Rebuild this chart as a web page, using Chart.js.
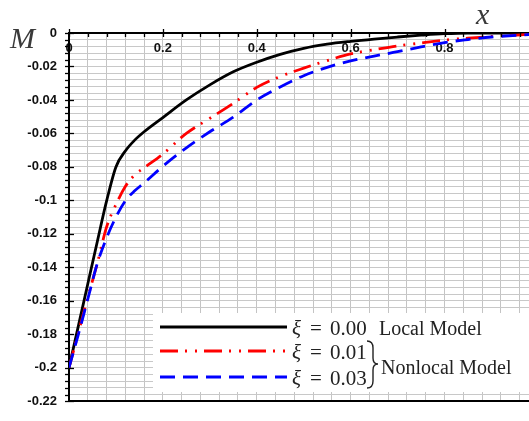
<!DOCTYPE html>
<html>
<head>
<meta charset="utf-8">
<title>Bending moment M(x)</title>
<script src="https://cdn.jsdelivr.net/npm/chart.js@4.4.1/dist/chart.umd.min.js"></script>
<style>
  html, body { margin: 0; padding: 0; background: #fff; }
  #wrap { width: 529px; height: 421px; }
</style>
</head>
<body>
<div id="wrap"><canvas id="momentChart" width="529" height="421"></canvas></div>
<script>
// values
const xValues = [0, 0.02, 0.04, 0.06, 0.08, 0.1, 0.12, 0.14, 0.16, 0.2, 0.25, 0.3, 0.35,
  0.4, 0.45, 0.5, 0.55, 0.6, 0.65, 0.7, 0.75, 0.8, 0.85, 0.9, 0.98];
const localModel = [-0.2, -0.175, -0.150, -0.125, -0.1005, -0.080, -0.0705, -0.064, -0.059,
  -0.0505, -0.040, -0.031, -0.0232, -0.0175, -0.0128, -0.0092, -0.0067, -0.0050, -0.0036,
  -0.0024, -0.0013, -0.0004, 0, 0, 0];
const nonlocal001 = [-0.2, -0.179, -0.158, -0.138, -0.116, -0.1025, -0.0917, -0.0848, -0.0805,
  -0.0723, -0.0600, -0.0510, -0.0420, -0.0325, -0.0260, -0.0210, -0.0165, -0.0125, -0.0100,
  -0.0077, -0.0060, -0.0042, -0.0031, -0.0021, -0.0008];
const nonlocal003 = [-0.2, -0.180, -0.159, -0.138, -0.1225, -0.110, -0.1003, -0.0943, -0.0896,
  -0.0796, -0.0686, -0.0590, -0.0503, -0.0400, -0.0322, -0.0255, -0.0205, -0.0167, -0.0138,
  -0.0112, -0.0083, -0.0057, -0.0039, -0.0024, -0.0009];

const seriesLabels = ['ξ = 0.00', 'ξ = 0.01', 'ξ = 0.03'];
const xTickLabels = [0, 0.2, 0.4, 0.6, 0.8];
const yTickLabels = [0, -0.02, -0.04, -0.06, -0.08, -0.1, -0.12, -0.14, -0.16, -0.18, -0.2, -0.22];

const isLabelled = (v, list) => list.some(l => Math.abs(l - v) < 1e-7);

class MomentChart {

  constructor(canvasId){
    this._canvasId = canvasId;
    this._config;
  }

  buildPoints(series){
    return xValues.map((x, i) => ({x: x, y: series[i]}));
  }

  buildData(){
    return {
      datasets: [{
        label: seriesLabels[0],
        data: this.buildPoints(localModel),
        borderColor: '#000000',
        borderWidth: 2.8,
        order: 3
      }, {
        label: seriesLabels[1],
        data: this.buildPoints(nonlocal001),
        borderColor: '#ff0000',
        borderWidth: 2.8,
        borderDash: [18, 7, 2, 8, 2, 7],
        order: 2
      }, {
        label: seriesLabels[2],
        data: this.buildPoints(nonlocal003),
        borderColor: '#0000ff',
        borderWidth: 2.8,
        borderDash: [15, 8],
        order: 1
      }]
    };
  }

  // axis tick marks, the M and x symbols and the hand-made legend
  buildDecorPlugin(){
    return {
      id: 'decor',
      afterDraw(chart){
        const ctx = chart.ctx;
        const xs = chart.scales.x;
        const ys = chart.scales.y;
        const left = chart.chartArea.left;
        const axisY = ys.getPixelForValue(0);
        ctx.save();
        ctx.strokeStyle = '#000';
        ctx.lineWidth = 1.3;
        ys.ticks.forEach(t => {
          const py = Math.round(ys.getPixelForValue(t.value)) + 0.5;
          const major = isLabelled(t.value, yTickLabels);
          ctx.beginPath();
          ctx.moveTo(left - 4, py);
          ctx.lineTo(left + (major ? 5 : 0), py);
          ctx.stroke();
        });
        xs.ticks.forEach(t => {
          const px = Math.round(xs.getPixelForValue(t.value)) + 0.5;
          const major = isLabelled(t.value, xTickLabels);
          ctx.beginPath();
          ctx.moveTo(px, axisY - (major ? 4 : 0));
          ctx.lineTo(px, axisY + 4);
          ctx.stroke();
        });

        // axis symbols
        ctx.fillStyle = '#3a3a3a';
        ctx.font = 'italic 30px "Liberation Serif"';
        ctx.textBaseline = 'alphabetic';
        ctx.fillText('M', 10, 48);
        ctx.fillText('x', 476, 24);

        // legend
        ctx.fillStyle = '#ffffff';
        ctx.fillRect(153, 313, chart.width - 153, 79);
        const rows = [327, 351, 377];
        chart.data.datasets.forEach((ds, i) => {
          ctx.strokeStyle = ds.borderColor;
          ctx.lineWidth = 3;
          ctx.setLineDash(ds.borderDash || []);
          ctx.beginPath();
          ctx.moveTo(160, rows[i]);
          ctx.lineTo(287, rows[i]);
          ctx.stroke();
          ctx.setLineDash([]);
          const parts = ds.label.split('=');
          const base = rows[i] + 8;
          ctx.fillStyle = '#222';
          ctx.font = 'italic 21px "Liberation Serif"';
          ctx.fillText(parts[0].trim(), 292, base);
          ctx.font = '21px "Liberation Serif"';
          ctx.fillText('=', 310, base);
          ctx.fillText(parts[1].trim(), 330, base);
        });
        ctx.font = '20px "Liberation Serif"';
        ctx.fillText('Local Model', 379, 335);
        ctx.fillText('Nonlocal Model', 381, 374);

        // curly brace joining the two nonlocal rows
        ctx.strokeStyle = '#222';
        ctx.lineWidth = 1.4;
        ctx.beginPath();
        ctx.moveTo(367, 341);
        ctx.quadraticCurveTo(373, 341, 373, 348);
        ctx.lineTo(373, 358);
        ctx.quadraticCurveTo(373, 364, 378, 364);
        ctx.quadraticCurveTo(373, 364, 373, 370);
        ctx.lineTo(373, 381);
        ctx.quadraticCurveTo(373, 388, 367, 388);
        ctx.stroke();
        ctx.restore();
      }
    };
  }

  buildConfig(data){
    const tickFont = {family: '"Liberation Sans", Arial', size: 13, weight: 'bold'};
    return {
      type: 'line',
      data: data,
      options: {
        responsive: false,
        animation: false,
        events: [],
        layout: {padding: {top: 33, right: 0, bottom: 9, left: 0}},
        elements: {
          point: {radius: 0},
          line: {cubicInterpolationMode: 'monotone', fill: false}
        },
        plugins: {legend: {display: false}, tooltip: {enabled: false}},
        scales: {
          x: {
            type: 'linear',
            position: {y: 0},
            min: 0,
            max: 0.98,
            border: {color: '#000', width: 2},
            grid: {color: '#c4c4c4', lineWidth: 1, drawTicks: false},
            ticks: {
              stepSize: 0.04,
              includeBounds: false,
              autoSkip: false,
              maxRotation: 0,
              padding: 8,
              color: '#111',
              font: tickFont,
              callback: v => isLabelled(v, xTickLabels) ? String(Math.round(v * 10) / 10) : ''
            }
          },
          y: {
            type: 'linear',
            min: -0.22,
            max: 0,
            afterFit: scale => { scale.width = 69; },
            border: {color: '#000', width: 2},
            grid: {
              drawTicks: false,
              color: c => Math.abs(c.tick.value + 0.22) < 1e-7 ? '#000' : '#c8c8c8',
              lineWidth: c => Math.abs(c.tick.value + 0.22) < 1e-7 ? 2 : 1
            },
            ticks: {
              stepSize: 0.004,
              autoSkip: false,
              padding: 12,
              color: '#111',
              font: tickFont,
              callback: v => isLabelled(v, yTickLabels) ? String(Math.round(v * 100) / 100) : ''
            }
          }
        }
      },
      plugins: [this.buildDecorPlugin()]
    };
  }

  buildChart(){
    this._config = this.buildConfig(this.buildData());
    return new Chart(document.getElementById(this._canvasId), this._config);
  }
}

new MomentChart('momentChart').buildChart();
</script>
</body>
</html>
